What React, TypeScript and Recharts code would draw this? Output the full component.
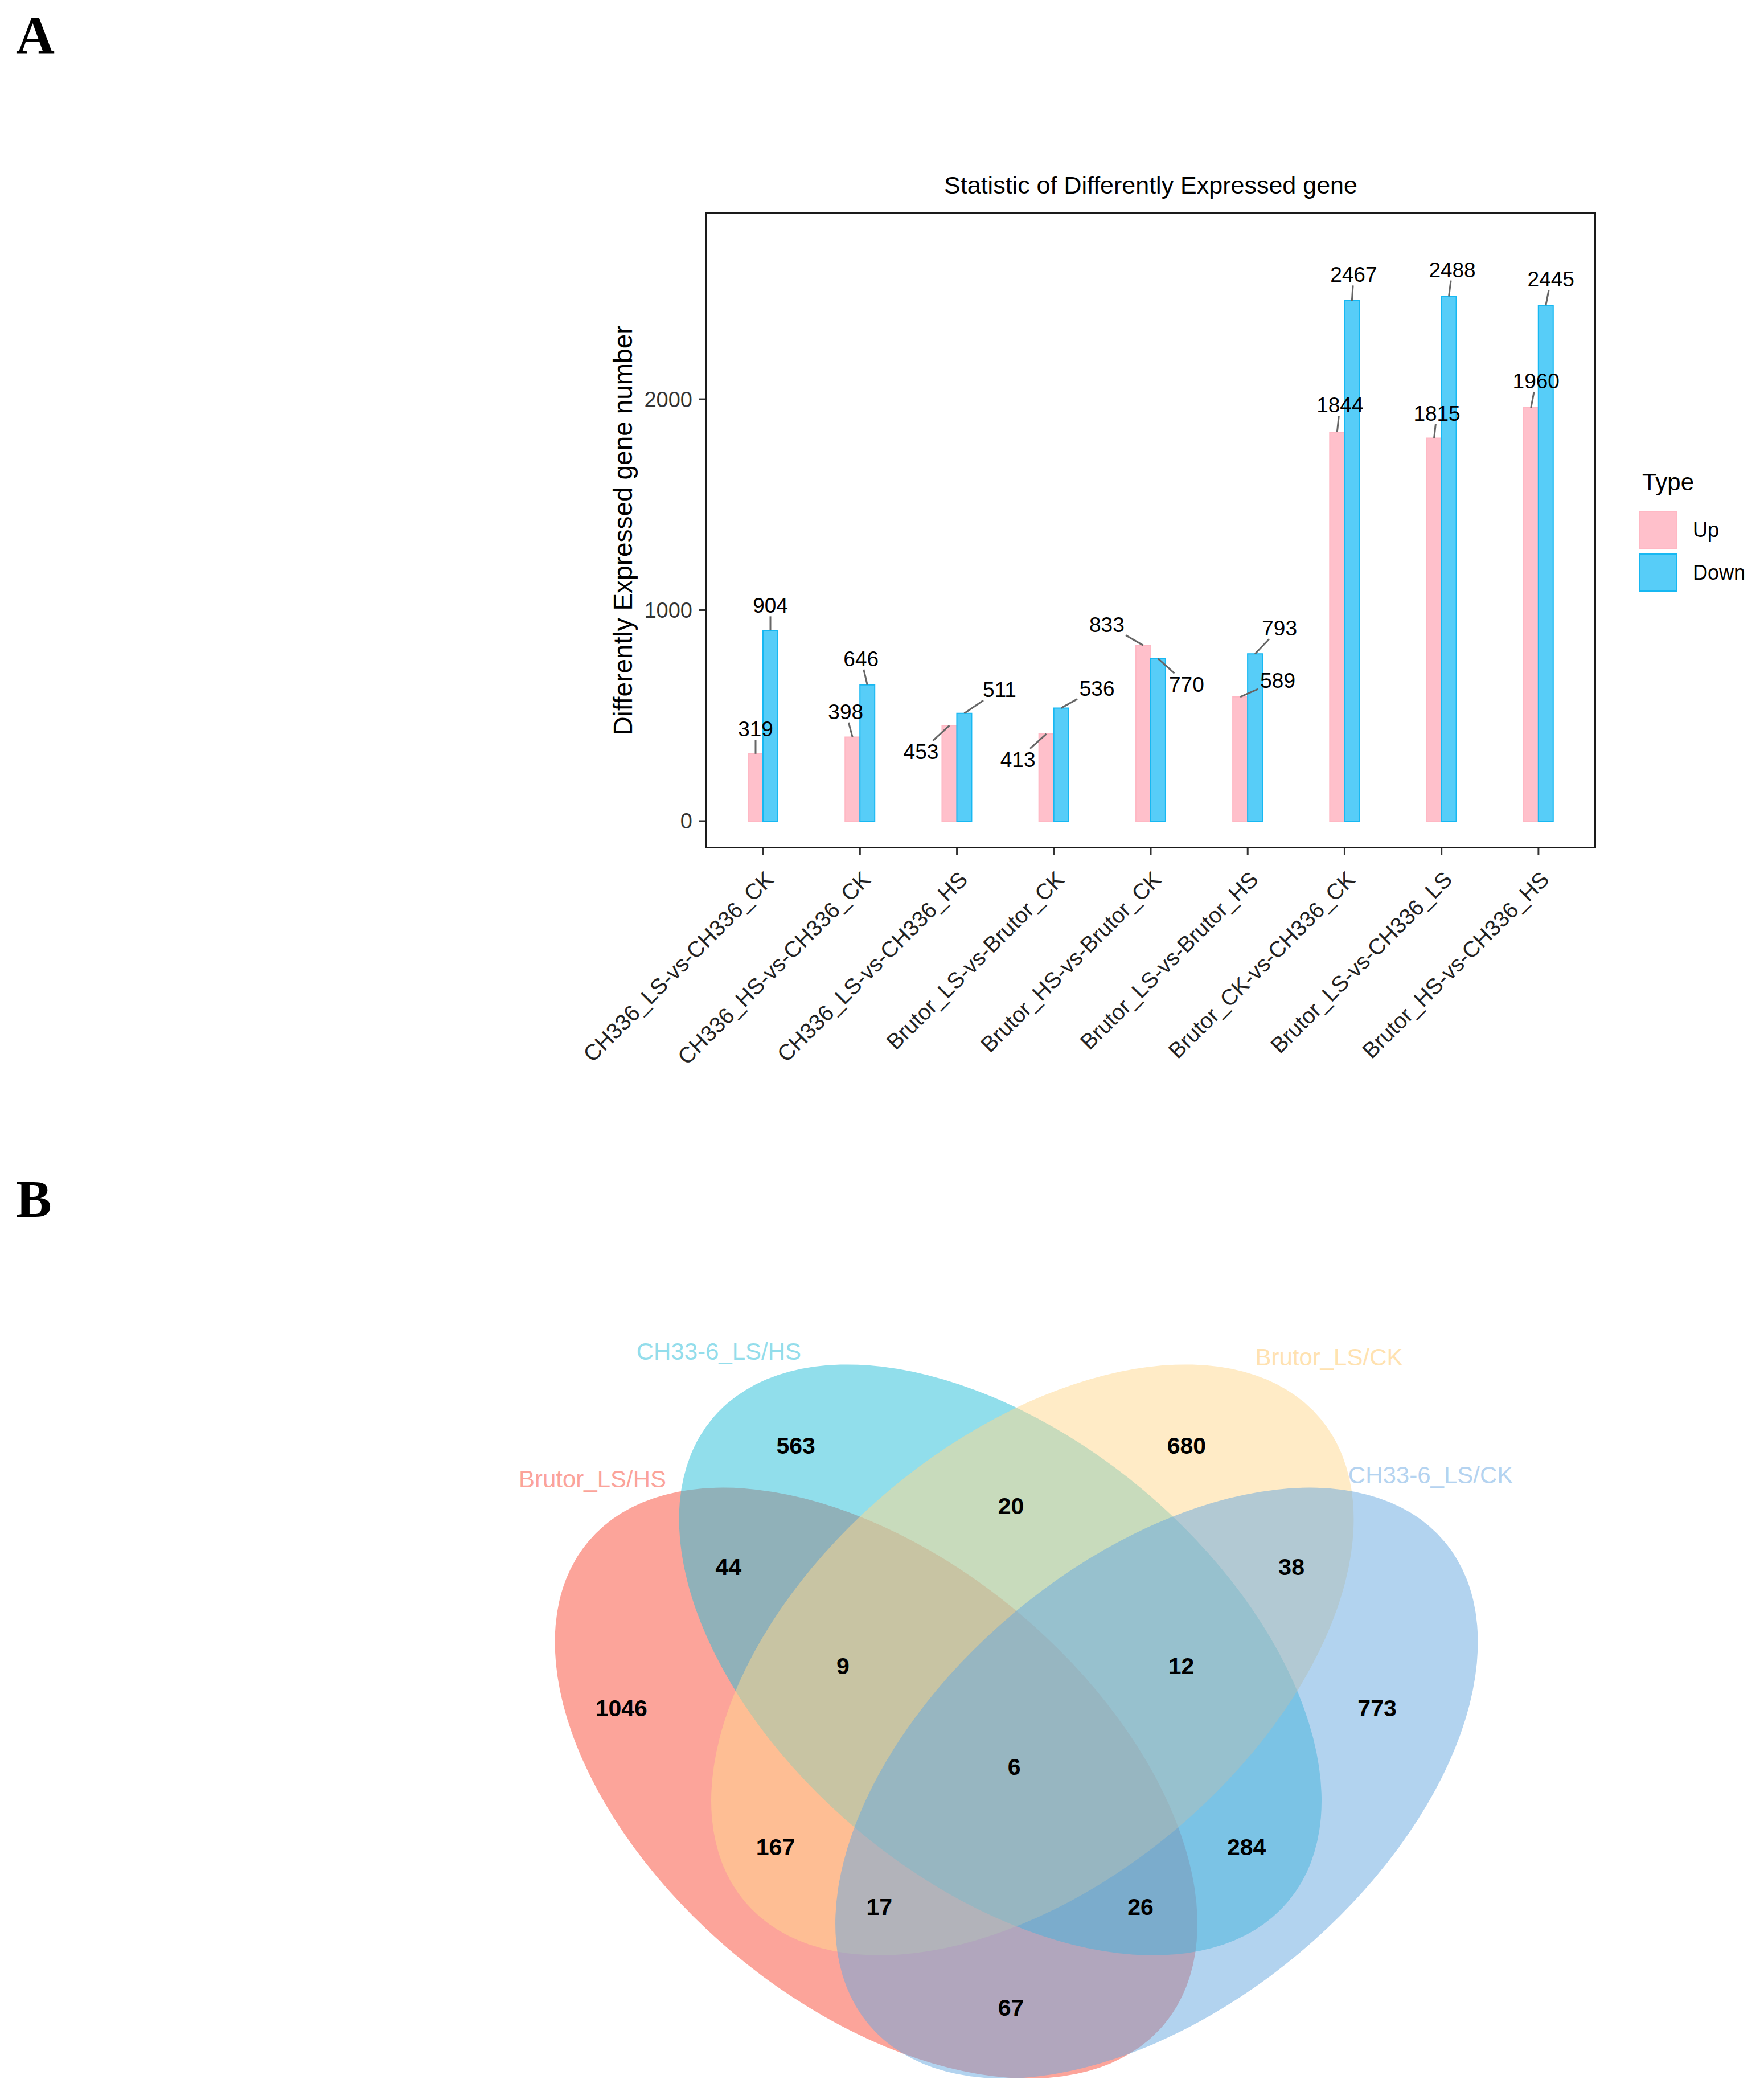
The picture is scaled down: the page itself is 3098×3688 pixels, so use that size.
import React from 'react';
import { BarChart, Bar, XAxis, YAxis, LabelList, Legend, ScatterChart, Scatter } from 'recharts';

const FONT = '"Liberation Sans", Arial, Helvetica, sans-serif';
const SERIF = '"Liberation Serif", "Times New Roman", serif';

// ---- panel A: DEG counts ----
const comparisons = [
  'CH336_LS-vs-CH336_CK',
  'CH336_HS-vs-CH336_CK',
  'CH336_LS-vs-CH336_HS',
  'Brutor_LS-vs-Brutor_CK',
  'Brutor_HS-vs-Brutor_CK',
  'Brutor_LS-vs-Brutor_HS',
  'Brutor_CK-vs-CH336_CK',
  'Brutor_LS-vs-CH336_LS',
  'Brutor_HS-vs-CH336_HS',
];
const upCounts = [319, 398, 453, 413, 833, 589, 1844, 1815, 1960];
const downCounts = [904, 646, 511, 536, 770, 793, 2467, 2488, 2445];
const yTicks = [0, 1000, 2000];
const typeNames = ['Up', 'Down'];

// where the repelled labels ended up, px from the top of each bar
const upNudge = [[0, -44], [-12, -45], [-50, 46], [-50, 45], [-64, -37], [66, -29], [5, -48], [5, -44], [9, -47]];
const downNudge = [[0, -44], [-11, -46], [62, -42], [63, -35], [50, 45], [43, -45], [3, -46], [6, -47], [9, -46]];

const degData = comparisons.map((name, i) => ({ name, up: upCounts[i], down: downCounts[i] }));

// ---- panel B: venn ----
const vennSets = ['Brutor_LS/HS', 'CH33-6_LS/HS', 'Brutor_LS/CK', 'CH33-6_LS/CK'];
const vennFill = ['#F94935', '#23BDD7', '#FFD78D', '#66A8E0'];
const vennNameColor = ['#FBA39A', '#93DDEB', '#FFE2B0', '#B4D3F0'];
const regionCounts = [1046, 563, 680, 773, 44, 20, 38, 9, 12, 6, 167, 284, 17, 26, 67];

// layout in unit square (y up), like VennDiagram
const ellipseCentre = [[0.369, 0.463], [0.485, 0.578], [0.515, 0.578], [0.631, 0.463]];
const ellipseTilt = [40, 40, -40, -40];
const ELLIPSE_A = 0.351;
const ELLIPSE_B = 0.2074;
const setNamePos = [[0.104, 0.747], [0.222, 0.866], [0.792, 0.861], [0.887, 0.751]];
const regionPos = [
  [0.131, 0.533], [0.294, 0.778], [0.659, 0.778], [0.837, 0.533],
  [0.231, 0.665], [0.495, 0.722], [0.757, 0.665],
  [0.338, 0.572], [0.654, 0.572], [0.498, 0.478],
  [0.275, 0.403], [0.715, 0.403], [0.372, 0.347], [0.616, 0.347], [0.495, 0.253],
];

const VENN_W = 1880;
const VENN_H = 1466;
const VENN_X = [0, 1];
const VENN_Y = [0.17, 0.95];
const VENN_PX = VENN_W / (VENN_X[1] - VENN_X[0]);

const ellipseData = vennSets.map((name, i) => ({ x: ellipseCentre[i][0], y: ellipseCentre[i][1], idx: i, name }));
const regionData = regionCounts.map((n, i) => ({ x: regionPos[i][0], y: regionPos[i][1], n }));
const setNameData = vennSets.map((name, i) => ({ x: setNamePos[i][0], y: setNamePos[i][1], name, idx: i }));

function repelLabel(nudge: number[][]) {
  return (props: any) => {
    const vb = props.viewBox ?? props;
    const { x, y, width } = vb;
    const [dx, dy] = nudge[props.index];
    const fs = 37;
    const px = x + width / 2;
    const py = y;
    const lx = px + dx;
    const ly = py + dy;
    const hw = (String(props.value).length * 0.556 * fs) / 2 + 4;
    const hh = (0.716 * fs) / 2 + 6;
    const t = Math.min(dx ? hw / Math.abs(dx) : Infinity, dy ? hh / Math.abs(dy) : Infinity);
    return (
      <g key={`lab-${props.index}`}>
        {t < 1 && <line x1={px} y1={py} x2={lx - dx * t} y2={ly - dy * t} stroke="#666" strokeWidth={3} />}
        <text x={lx} y={ly + 0.358 * fs} textAnchor="middle" fontSize={fs} fill="#000" fontFamily={FONT}>
          {props.value}
        </text>
      </g>
    );
  };
}

function SlantTick({ x, y, payload }: any) {
  const ax = x + 21;
  const ay = y + 44;
  return (
    <text x={ax} y={ay} transform={`rotate(-45 ${ax} ${ay})`} textAnchor="end" fontSize={39} fill="#222" fontFamily={FONT}>
      {payload.value}
    </text>
  );
}

function TypeLegend(props: any) {
  const items = [...(props.payload ?? [])].sort(
    (a: any, b: any) => typeNames.indexOf(a.value) - typeNames.indexOf(b.value)
  );
  return (
    <div style={{ fontFamily: FONT, color: '#000' }}>
      <div style={{ fontSize: 42, lineHeight: '42px', marginLeft: 6 }}>Type</div>
      <div style={{ marginTop: 29 }}>
        {items.map((it: any) => (
          <div key={it.value} style={{ display: 'flex', alignItems: 'center', height: 67, marginBottom: 8 }}>
            <div
              style={{
                width: 68,
                height: 67,
                boxSizing: 'border-box',
                background: it.color,
                border: `2px solid ${it.payload?.stroke ?? it.color}`,
              }}
            />
            <div style={{ marginLeft: 27, fontSize: 36, lineHeight: '36px' }}>{it.value}</div>
          </div>
        ))}
      </div>
    </div>
  );
}

const ellipseShape = (p: any) => {
  const i = p.payload.idx;
  return (
    <ellipse
      cx={p.cx}
      cy={p.cy}
      rx={ELLIPSE_A * VENN_PX}
      ry={ELLIPSE_B * VENN_PX}
      transform={`rotate(${ellipseTilt[i]} ${p.cx} ${p.cy})`}
      fill={vennFill[i]}
      fillOpacity={0.5}
    />
  );
};

const countShape = (p: any) => (
  <text x={p.cx} y={p.cy} textAnchor="middle" dominantBaseline="central" fontSize={41} fontWeight="bold" fill="#000" fontFamily={FONT}>
    {p.payload.n}
  </text>
);

const setNameShape = (p: any) => (
  <text x={p.cx} y={p.cy} textAnchor="middle" dominantBaseline="central" fontSize={42} fill={vennNameColor[p.payload.idx]} fontFamily={FONT}>
    {p.payload.name}
  </text>
);

export default function App() {
  return (
    <div
      style={{
        position: 'absolute',
        left: 0,
        top: 0,
        width: 3098,
        height: 3688,
        background: '#fff',
        overflow: 'hidden',
        fontFamily: FONT,
      }}
    >
      <svg style={{ position: 'absolute', left: 0, top: 0 }} width={3098} height={3688}>
        <text x={28} y={93} fontFamily={SERIF} fontWeight="bold" fontSize={94} fill="#000">A</text>
        <text x={28} y={2137} fontFamily={SERIF} fontWeight="bold" fontSize={94} fill="#000">B</text>
        <text x={2021} y={340} textAnchor="middle" fontSize={43} fill="#000" fontFamily={FONT}>
          Statistic of Differently Expressed gene
        </text>
      </svg>

      <div style={{ position: 'absolute', left: 0, top: 0 }}>
        <BarChart
          width={3098}
          height={1900}
          data={degData}
          margin={{ top: 374, right: 296, bottom: 31, left: 948 }}
          barGap={0}
          barSize={26}
        >
          <XAxis
            dataKey="name"
            height={380}
            interval={0}
            padding={{ left: 15, right: 15 }}
            axisLine={false}
            tickSize={12}
            tickMargin={2}
            tickLine={{ stroke: '#333', strokeWidth: 3 }}
            tick={<SlantTick />}
          />
          <YAxis
            width={292}
            type="number"
            domain={[-127, 2883]}
            ticks={yTicks}
            axisLine={false}
            tickSize={12}
            tickMargin={12}
            tickLine={{ stroke: '#333', strokeWidth: 3 }}
            tick={{ fontSize: 38, fill: '#333', fontFamily: FONT }}
            label={{
              value: 'Differently Expressed gene number',
              angle: -90,
              position: 'center',
              fontSize: 46,
              fill: '#000',
              fontFamily: FONT,
            }}
          />
          <Legend
            layout="horizontal"
            verticalAlign="middle"
            align="center"
            content={<TypeLegend />}
            wrapperStyle={{ left: 2878, top: 826, width: 220 }}
          />
          <Bar dataKey="up" name="Up" fill="#FFC0CB" stroke="#FFB8C4" strokeWidth={2} legendType="square" isAnimationActive={false}>
            <LabelList dataKey="up" content={repelLabel(upNudge)} />
          </Bar>
          <Bar dataKey="down" name="Down" fill="#57CDF8" stroke="#17B8F2" strokeWidth={2} legendType="square" isAnimationActive={false}>
            <LabelList dataKey="down" content={repelLabel(downNudge)} />
          </Bar>
        </BarChart>
      </div>
      <div
        style={{
          position: 'absolute',
          left: 1239,
          top: 373,
          width: 1564,
          height: 1117,
          border: '3px solid #1a1a1a',
          boxSizing: 'border-box',
        }}
      />

      <div style={{ position: 'absolute', left: 845, top: 2216 }}>
        <ScatterChart width={VENN_W} height={VENN_H} margin={{ top: 0, right: 0, bottom: 0, left: 0 }}>
          <XAxis type="number" dataKey="x" domain={VENN_X} hide />
          <YAxis type="number" dataKey="y" domain={VENN_Y} hide />
          <Scatter data={ellipseData} shape={ellipseShape} isAnimationActive={false} />
          <Scatter data={regionData} shape={countShape} isAnimationActive={false} />
          <Scatter data={setNameData} shape={setNameShape} isAnimationActive={false} />
        </ScatterChart>
      </div>
    </div>
  );
}
